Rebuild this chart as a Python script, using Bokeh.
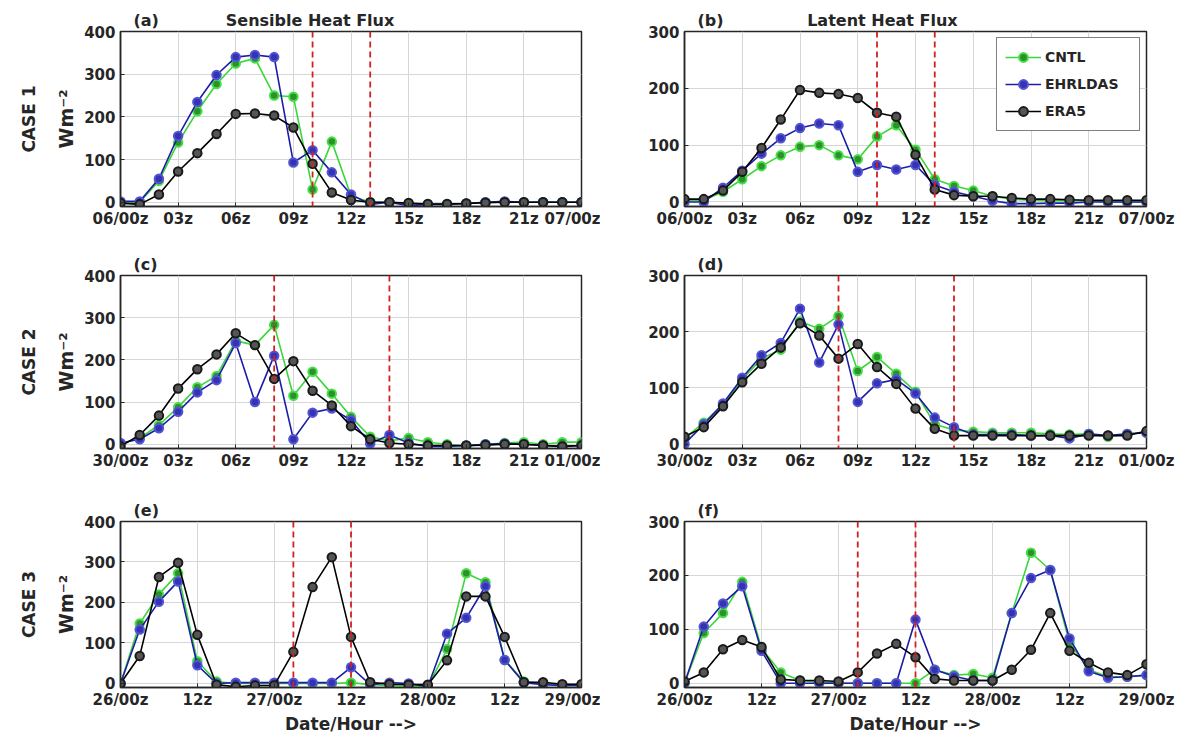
from bokeh.plotting import figure
from bokeh.models import Span, FixedTicker, Range1d, Legend, LegendItem, Title
from bokeh.layouts import column, row
from bokeh.embed import file_html
from bokeh.resources import INLINE

# ---------------- data ----------------
hours_24 = list(range(25))
hours_72 = list(range(0, 73, 3))

ticks_24 = [0, 3, 6, 9, 12, 15, 18, 21, 24]
labels_case1 = ["06/00z", "03z", "06z", "09z", "12z", "15z", "18z", "21z", "07/00z"]
labels_case2 = ["30/00z", "03z", "06z", "09z", "12z", "15z", "18z", "21z", "01/00z"]
ticks_72 = [0, 12, 24, 36, 48, 60, 72]
labels_case3 = ["26/00z", "12z", "27/00z", "12z", "28/00z", "12z", "29/00z"]

shf_ticks = [0, 100, 200, 300, 400]
lhf_ticks = [0, 100, 200, 300]

# CASE 1 sensible (a)
a_cntl = [0, 0, 50, 140, 213, 277, 325, 337, 250, 247, 30, 142, 15, 0, 0, -3, -5, -5, -3, 0, 0, 0, 0, 0, 0]
a_ehr = [2, 2, 55, 155, 235, 298, 340, 345, 340, 93, 122, 70, 18, -5, 0, -8, -5, -5, -3, 0, 2, 0, 0, 0, 0]
a_era = [-2, -5, 18, 72, 115, 160, 207, 208, 203, 175, 90, 23, 5, 0, 0, -2, -4, -4, -3, -1, 0, 0, 0, 0, 0]
# CASE 1 latent (b)
b_cntl = [3, 3, 18, 40, 63, 82, 97, 100, 82, 75, 115, 135, 92, 40, 28, 20, 10, 5, 3, 2, 2, 2, 0, 0, 0]
b_ehr = [0, 0, 25, 55, 85, 112, 130, 138, 135, 53, 65, 57, 65, 30, 18, 10, 2, -3, -3, -2, -2, 0, 0, 0, 0]
b_era = [5, 5, 20, 53, 95, 145, 197, 192, 190, 183, 157, 150, 83, 22, 12, 10, 10, 7, 5, 5, 4, 3, 3, 3, 3]
# CASE 2 sensible (c)
c_cntl = [0, 15, 45, 88, 135, 162, 245, 235, 283, 115, 172, 120, 65, 18, 8, 15, 5, 0, -5, 0, 3, 5, 0, 5, 5]
c_ehr = [3, 12, 38, 77, 123, 152, 240, 100, 210, 12, 75, 85, 57, 2, 22, 3, -5, -5, -3, 0, 2, 0, -3, -5, -3]
c_era = [-5, 22, 68, 132, 178, 213, 263, 235, 155, 197, 127, 92, 43, 12, 3, 0, -3, -3, -3, -2, 0, 0, -3, -5, -3]
# CASE 2 latent (d)
d_cntl = [10, 38, 70, 115, 152, 168, 218, 205, 228, 130, 155, 125, 93, 35, 25, 22, 20, 20, 20, 18, 17, 18, 13, 18, 20]
d_ehr = [0, 35, 72, 118, 158, 180, 241, 145, 213, 75, 108, 115, 90, 47, 30, 17, 17, 17, 15, 15, 10, 18, 15, 18, 20]
d_era = [13, 30, 67, 110, 143, 172, 215, 193, 152, 178, 137, 107, 63, 27, 15, 15, 15, 15, 15, 15, 15, 15, 15, 15, 23]
# CASE 3 sensible (e)
e_cntl = [0, 148, 220, 272, 55, 5, 0, 0, 0, 0, 0, 0, 2, -3, -5, -8, -8, 85, 272, 250, 58, 5, 0, -5, -5]
e_ehr = [0, 133, 202, 252, 45, 0, 2, 2, 2, 2, 2, 2, 40, -3, 2, 0, -8, 123, 162, 240, 58, 2, -3, -5, -5]
e_era = [0, 68, 263, 298, 120, -3, -8, -5, -5, 78, 238, 312, 115, 3, -2, -3, -3, 57, 215, 215, 115, 3, 3, -2, -2]
# CASE 3 latent (f)
f_cntl = [0, 93, 130, 188, 65, 20, 5, 2, 0, 0, 0, 0, 0, 25, 15, 17, 10, 130, 242, 210, 75, 25, 12, 12, 15]
f_ehr = [0, 105, 148, 180, 60, 0, 0, 0, 0, 0, 0, 0, 118, 25, 13, 5, 5, 130, 195, 210, 83, 22, 10, 12, 15]
f_era = [3, 20, 63, 80, 67, 7, 5, 5, 3, 20, 55, 73, 48, 8, 5, 5, 5, 25, 62, 130, 60, 38, 20, 15, 35]

dash_case1 = [10, 13]
dash_case2 = [8, 14]
dash_case3 = [27, 36]

series_names = ["CNTL", "EHRLDAS", "ERA5"]

# ---------------- style ----------------
FONT = "DejaVu Sans"
TXT = "#262626"
NB = "\u00a0"
STY = {
    "CNTL": dict(line="#3ad63a", fill="#2f8f2f", edge="#44e044"),
    "EHRLDAS": dict(line="#1c1ca8", fill="#3333b3", edge="#5454d4"),
    "ERA5": dict(line="#000000", fill="#555555", edge="#1a1a1a"),
}


def panel(x, data, ylo, yhi, yticks, xticks, xlabels, dashes, tag, title, gap,
          case, w, bl, br, h, bt, bb, xlabel=None, legend=False):
    if case:
        kw = dict(title=case, title_location="left")
    else:
        kw = dict(title=None)
    p = figure(width=w, height=h, x_range=Range1d(x[0], x[-1]),
               y_range=Range1d(ylo, yhi), output_backend="svg",
               toolbar_location=None, min_border_left=bl, min_border_right=br,
               min_border_top=bt, min_border_bottom=bb, **kw)
    if case:
        p.title.text_font = FONT
        p.title.text_font_size = "17px"
        p.title.text_font_style = "bold"
        p.title.text_color = TXT
        p.title.align = "center"
        p.title.standoff = 27
    top_text = tag if not title else tag + NB * gap + title
    p.add_layout(Title(text=top_text, align="left", offset=13, standoff=4,
                       text_font=FONT, text_font_size="16px",
                       text_font_style="bold", text_color=TXT), "above")
    p.outline_line_color = TXT
    p.outline_line_width = 1.5
    p.background_fill_color = "white"
    p.border_fill_color = "white"
    p.xgrid.grid_line_color = "#d6d6d6"
    p.ygrid.grid_line_color = "#d6d6d6"
    p.xaxis.ticker = FixedTicker(ticks=xticks)
    p.xaxis.major_label_overrides = {t: l for t, l in zip(xticks, xlabels)}
    p.yaxis.ticker = FixedTicker(ticks=yticks)
    for ax in (p.xaxis[0], p.yaxis[0]):
        ax.major_tick_in = 4
        ax.major_tick_out = 0
        ax.minor_tick_line_color = None
        ax.axis_line_color = TXT
        ax.axis_line_width = 1.5
        ax.major_tick_line_color = TXT
        ax.major_label_text_font = FONT
        ax.major_label_text_font_size = "15px"
        ax.major_label_text_font_style = "bold"
        ax.major_label_text_color = TXT
        ax.axis_label_text_font = FONT
        ax.axis_label_text_font_size = "17px"
        ax.axis_label_text_font_style = "bold"
        ax.axis_label_text_color = TXT
    p.xaxis.major_label_standoff = 3
    p.yaxis.major_label_standoff = 5
    if case:
        p.yaxis.axis_label = "Wm⁻²"
        p.yaxis.axis_label_text_font_size = "19px"
        p.yaxis.axis_label_standoff = 4
    if xlabel:
        p.xaxis.axis_label = xlabel
        p.xaxis.axis_label_standoff = 2

    items = []
    for name, vals in zip(series_names, data):
        s = STY[name]
        lr = p.line(x, vals, line_color=s["line"], line_width=1.6)
        sr = p.scatter(x, vals, size=8.5, fill_color=s["fill"],
                       line_color=s["edge"], line_width=2)
        items.append(LegendItem(label=name, renderers=[lr, sr]))

    for d in dashes:
        p.add_layout(Span(location=d, dimension="height", line_color="#d42020",
                          line_width=1.8, line_dash="6 4"))

    if legend:
        lg = Legend(items=items, location="top_right")
        lg.border_line_color = "#000000"
        lg.border_line_width = 1.2
        lg.label_text_font = FONT
        lg.label_text_font_size = "14px"
        lg.label_text_font_style = "bold"
        lg.label_text_color = TXT
        lg.glyph_width = 36
        lg.glyph_height = 22
        lg.label_standoff = 4
        lg.label_width = 86
        lg.spacing = 5
        lg.padding = 8
        lg.margin = 6
        lg.background_fill_alpha = 1.0
        p.add_layout(lg)
    return p


LW, LBL, LBR = 600, 120, 19
RW, RBL, RBR = 576, 84, 30

pa = panel(hours_24, [a_cntl, a_ehr, a_era], -10, 400, shf_ticks, ticks_24, labels_case1,
           dash_case1, "(a)", "Sensible Heat Flux", 12, "CASE 1", LW, LBL, LBR, 250, 31, 44)
pb = panel(hours_24, [b_cntl, b_ehr, b_era], -8, 300, lhf_ticks, ticks_24, labels_case1,
           dash_case1, "(b)", "Latent Heat Flux", 15, None, RW, RBL, RBR, 250, 31, 44, legend=True)
pc = panel(hours_24, [c_cntl, c_ehr, c_era], -10, 400, shf_ticks, ticks_24, labels_case2,
           dash_case2, "(c)", None, 0, "CASE 2", LW, LBL, LBR, 242, 23, 44)
pd = panel(hours_24, [d_cntl, d_ehr, d_era], -8, 300, lhf_ticks, ticks_24, labels_case2,
           dash_case2, "(d)", None, 0, None, RW, RBL, RBR, 242, 23, 44)
pe = panel(hours_72, [e_cntl, e_ehr, e_era], -10, 400, shf_ticks, ticks_72, labels_case3,
           dash_case3, "(e)", None, 0, "CASE 3", LW, LBL, LBR, 244, 29, 40, xlabel="Date/Hour -->")
pf = panel(hours_72, [f_cntl, f_ehr, f_era], -8, 300, lhf_ticks, ticks_72, labels_case3,
           dash_case3, "(f)", None, 0, None, RW, RBL, RBR, 244, 29, 40, xlabel="Date/Hour -->")

layout = column(row(pa, pb), row(pc, pd), row(pe, pf))
open("out.html", "w").write(file_html(layout, INLINE))
